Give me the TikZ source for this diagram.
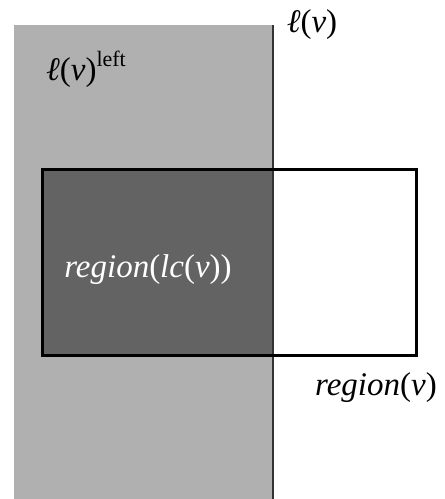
\documentclass[tikz,border=0pt]{standalone}
\usepackage{fontspec}
\setmainfont{Liberation Serif}
\newcommand{\nuv}{\textit{ν}}
\begin{document}
\begin{tikzpicture}[x=1pt, y=-1pt,
  lbl/.style={font=\fontsize{33}{38}\selectfont, inner sep=0pt}]

\useasboundingbox (0,0) rectangle (445,499);

% half plane left of the line
\fill[black!31] (14,25) rectangle (273,499);
% part of the region inside it
\fill[black!61] (42,169) rectangle (273,355);

\coordinate (ltop) at (273,25);
\coordinate (lbot) at (273,499);
\draw[line width=1.2pt, black!80] (ltop) -- (lbot);

\draw[line width=3pt] (42,169) rectangle (416,355);

\node[lbl] (lv) at (312,25) {\textit{ℓ}(\nuv)};
\node[lbl] (lvleft) at (86,69) {\textit{ℓ}(\nuv)\raisebox{14pt}{\fontsize{22}{26}\selectfont left}};
\node[lbl, text=white] (rlc) at (148,270) {\textit{region}(\textit{lc}(\nuv))};
\node[lbl] (rv) at (376,388) {\textit{region}(\nuv)};

\end{tikzpicture}
\end{document}
